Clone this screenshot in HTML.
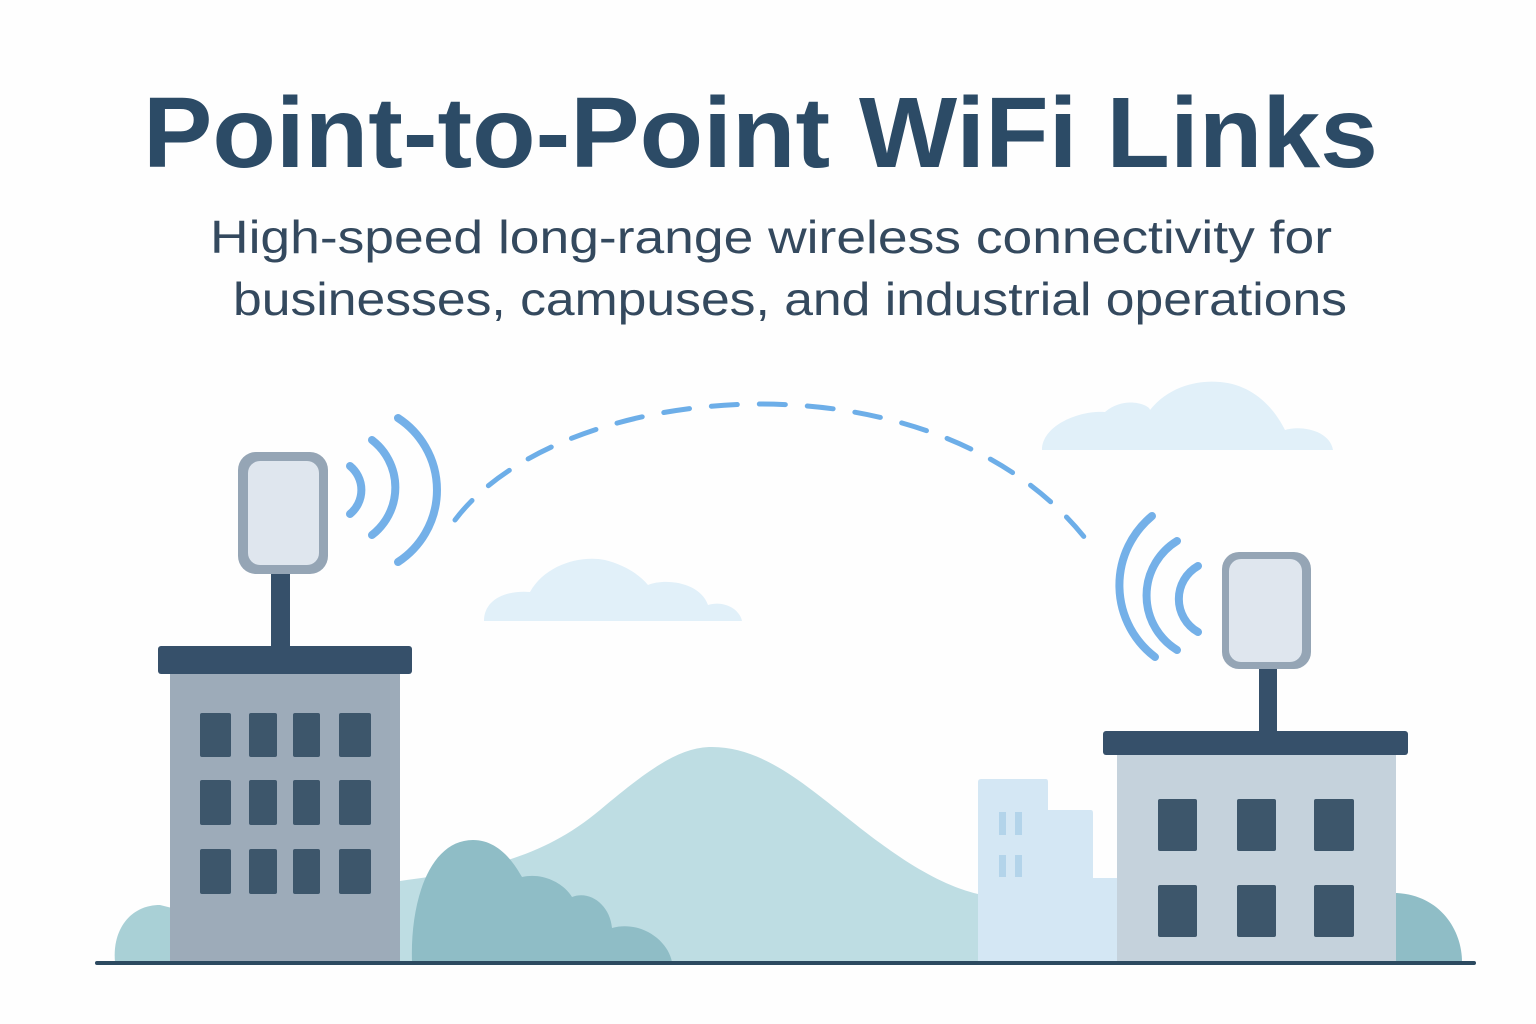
<!DOCTYPE html>
<html><head><meta charset="utf-8"><style>
html,body{margin:0;padding:0;background:#fff;}
svg{display:block}
</style></head><body>
<svg width="1536" height="1024" viewBox="0 0 1536 1024" xmlns="http://www.w3.org/2000/svg">
<rect width="1536" height="1024" fill="#fefefe"/>
<text x="143" y="167" font-family="Liberation Sans, sans-serif" font-weight="bold" font-size="100" fill="#2c4b66" textLength="1235" lengthAdjust="spacingAndGlyphs">Point-to-Point WiFi Links</text>
<text x="210" y="253" font-family="Liberation Sans, sans-serif" font-size="46" fill="#34495e" textLength="1122" lengthAdjust="spacingAndGlyphs">High-speed long-range wireless connectivity for</text>
<text x="233" y="315" font-family="Liberation Sans, sans-serif" font-size="46" fill="#34495e" textLength="1114" lengthAdjust="spacingAndGlyphs">businesses, campuses, and industrial operations</text>

<!-- clouds -->
<path d="M1042,450 C1042,425 1080,410 1105,412 C1125,395 1150,405 1150,410 C1170,385 1200,380 1220,382 C1255,385 1275,410 1285,430 C1300,425 1330,430 1333,450 Z" fill="#e1f0f9"/>
<path d="M484,621 C484,600 505,590 530,592 C545,565 580,555 605,560 C625,565 640,575 648,585 C665,578 700,582 708,605 C725,600 740,610 742,621 Z" fill="#e1f0f9"/>

<!-- dashed link -->
<path d="M455,520 C560,380 930,345 1085,538" fill="none" stroke="#6daee8" stroke-width="5" stroke-linecap="round" stroke-dasharray="26 22"/>

<!-- hill -->
<path d="M400,881 C480,870 540,860 600,810 C650,768 680,747 712,747 C760,747 800,780 850,820 C900,860 940,885 978,894 L978,962 L400,962 Z" fill="#bedde3"/>
<!-- bushes -->
<path d="M412,962 C410,900 430,840 473,840 C500,840 515,865 522,877 C545,872 565,885 572,897 C590,890 610,905 612,928 C640,920 668,940 672,962 Z" fill="#8fbdc6"/>
<path d="M115,962 C112,930 130,905 160,905 L172,908 L172,962 Z" fill="#a9d0d6"/>
<path d="M1396,893 C1440,895 1462,930 1462,962 L1396,962 Z" fill="#8fbdc6"/>

<!-- background small buildings -->
<path d="M978,962 L978,782 Q978,779 981,779 L1046,779 Q1048,779 1048,782 L1048,810 L1091,810 Q1093,810 1093,813 L1093,878 L1117,878 L1117,962 Z" fill="#d4e7f4"/>
<rect x="999" y="812" width="7" height="23" fill="#b3d4ea"/>
<rect x="1015" y="812" width="7" height="23" fill="#b3d4ea"/>
<rect x="999" y="855" width="7" height="22" fill="#b3d4ea"/>
<rect x="1015" y="855" width="7" height="22" fill="#b3d4ea"/>

<!-- left building -->
<rect x="170" y="672" width="230" height="290" fill="#9dabb9"/>
<rect x="158" y="646" width="254" height="28" rx="3" fill="#36506a"/>
<g fill="#3d566b">
<rect x="200" y="713" width="31" height="44" rx="2"/><rect x="249" y="713" width="28" height="44" rx="2"/><rect x="293" y="713" width="27" height="44" rx="2"/><rect x="339" y="713" width="32" height="44" rx="2"/>
<rect x="200" y="780" width="31" height="45" rx="2"/><rect x="249" y="780" width="28" height="45" rx="2"/><rect x="293" y="780" width="27" height="45" rx="2"/><rect x="339" y="780" width="32" height="45" rx="2"/>
<rect x="200" y="849" width="31" height="45" rx="2"/><rect x="249" y="849" width="28" height="45" rx="2"/><rect x="293" y="849" width="27" height="45" rx="2"/><rect x="339" y="849" width="32" height="45" rx="2"/>
</g>
<rect x="271" y="570" width="19" height="78" fill="#36506a"/>
<rect x="238" y="452" width="90" height="122" rx="18" fill="#95a5b5"/>
<rect x="248" y="461" width="71" height="104" rx="12" fill="#dfe6ee"/>
<g fill="none" stroke="#74b0e8" stroke-width="8" stroke-linecap="round">
<path d="M350,466 A31,31 0 0 1 350,514"/>
<path d="M372,440 A60,60 0 0 1 372,535"/>
<path d="M398,418 A86,86 0 0 1 398,562"/>
</g>

<!-- right building -->
<rect x="1117" y="752" width="279" height="210" fill="#c5d2dc"/>
<rect x="1103" y="731" width="305" height="24" rx="3" fill="#36506a"/>
<g fill="#3d566b">
<rect x="1158" y="799" width="39" height="52" rx="2"/><rect x="1237" y="799" width="39" height="52" rx="2"/><rect x="1314" y="799" width="40" height="52" rx="2"/>
<rect x="1158" y="885" width="39" height="52" rx="2"/><rect x="1237" y="885" width="39" height="52" rx="2"/><rect x="1314" y="885" width="40" height="52" rx="2"/>
</g>
<rect x="1259" y="666" width="18" height="67" fill="#36506a"/>
<rect x="1222" y="552" width="89" height="117" rx="17" fill="#95a5b5"/>
<rect x="1229" y="559" width="73" height="103" rx="12" fill="#dfe6ee"/>
<g fill="none" stroke="#74b0e8" stroke-width="8" stroke-linecap="round">
<path d="M1198,566 A38,38 0 0 0 1198,632"/>
<path d="M1177,541 A64,64 0 0 0 1177,650"/>
<path d="M1152,516 A90,90 0 0 0 1155,657"/>
</g>

<!-- ground -->
<rect x="95" y="961" width="1381" height="4" rx="2" fill="#2c4a60"/>
</svg>
</body></html>
